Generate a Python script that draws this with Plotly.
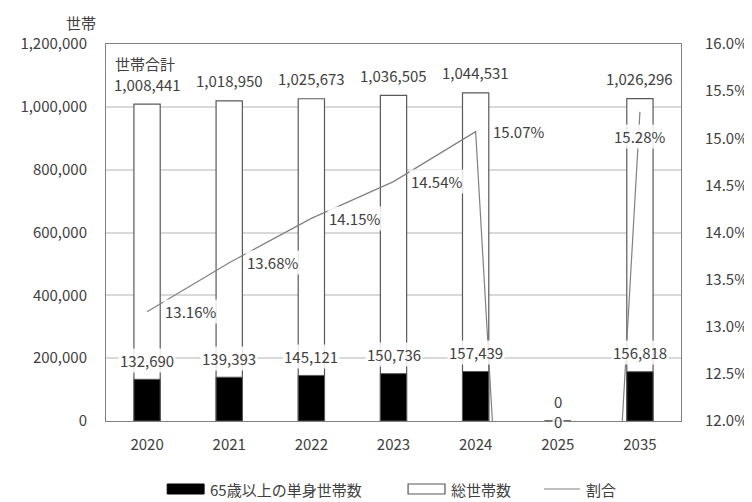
import plotly.graph_objects as go

years = ["2020", "2021", "2022", "2023", "2024", "2025", "2035"]
total_households = [1008441, 1018950, 1025673, 1036505, 1044531, 0, 1026296]
elderly_single = [132690, 139393, 145121, 150736, 157439, 0, 156818]
ratio_pct = [13.16, 13.68, 14.15, 14.54, 15.07, 0, 15.28]
legend_names = ["65歳以上の単身世帯数", "総世帯数", "割合"]

FONT = "Noto Sans CJK JP, Noto Sans, sans-serif"
TXT = "#404040"
FS = 15
EDGE = "#595959"

# page body has an 8px margin; plot area target (screen): x 97..689, y 44..421
L, T = 89, 36
R = 752 - (689 - 8)
B = 502 - (421 - 8)
PW, PH = 689 - 97, 421 - 44


def px(sx):
    return (sx - 97) / PW


def py(sy):
    return (421 - sy) / PH


fig = go.Figure()
fig.add_bar(x=years, y=total_households, name=legend_names[1],
            marker=dict(color="white", line=dict(color=EDGE, width=1.2)),
            width=0.32, showlegend=False)
fig.add_bar(x=years, y=elderly_single, name=legend_names[0],
            marker=dict(color="black", line=dict(color=EDGE, width=1.0)),
            width=0.32, showlegend=False)
fig.add_scatter(x=years, y=ratio_pct, name=legend_names[2], mode="lines",
                line=dict(color="#808080", width=1.2), yaxis="y2", showlegend=False)

ann = []
for i, v in enumerate(total_households):
    ann.append(dict(x=i, y=v, xref="x", yref="y", text=f"{v:,}", showarrow=False,
                    yanchor="middle", yshift=20, font=dict(size=FS, color=TXT)))
for i, v in enumerate(elderly_single):
    ann.append(dict(x=i, y=v, xref="x", yref="y", text=f"{v:,}", showarrow=False,
                    yanchor="middle", yshift=19 if v > 0 else 0,
                    bgcolor="rgba(255,255,255,0.85)", font=dict(size=FS, color=TXT)))
for i, v in enumerate(ratio_pct):
    if v < 12:
        continue
    last = i == len(years) - 1
    ann.append(dict(x=i, y=v, xref="x", yref="y2", text=f"{v:.2f}%", showarrow=False,
                    xshift=0 if last else 43, yshift=-25 if last else 0,
                    yanchor="middle", bgcolor="rgba(255,255,255,0.85)",
                    font=dict(size=FS, color=TXT)))
ann.append(dict(x=px(71), y=py(22), xref="paper", yref="paper", text="世帯", showarrow=False,
                xanchor="center", yanchor="middle", font=dict(size=FS, color=TXT)))
ann.append(dict(x=px(104), y=py(64), xref="paper", yref="paper", text="世帯合計",
                showarrow=False, xanchor="left", yanchor="middle",
                font=dict(size=FS, color=TXT)))

# custom legend (wide swatches like the reference)
LY = 489
shapes = [
    dict(type="rect", xref="paper", yref="paper", x0=px(160), x1=px(198),
         y0=py(LY + 5), y1=py(LY - 5), fillcolor="black", line=dict(color="black", width=1)),
    dict(type="rect", xref="paper", yref="paper", x0=px(408), x1=px(446),
         y0=py(LY + 5), y1=py(LY - 5), fillcolor="white", line=dict(color=EDGE, width=1.2)),
    dict(type="line", xref="paper", yref="paper", x0=px(548), x1=px(585),
         y0=py(LY), y1=py(LY), line=dict(color="#808080", width=1.2)),
]
for sx, name in zip([202, 450, 589], legend_names):
    ann.append(dict(x=px(sx), y=py(LY), xref="paper", yref="paper", text=name,
                    showarrow=False, xanchor="left", yanchor="middle",
                    font=dict(size=FS, color=TXT)))

fig.update_layout(
    width=752, height=502,
    margin=dict(l=L, r=R, t=T, b=B),
    paper_bgcolor="white", plot_bgcolor="white",
    barmode="overlay",
    font=dict(family=FONT, size=FS, color=TXT),
    showlegend=False,
    annotations=ann,
    shapes=shapes,
    xaxis=dict(type="category", range=[-0.5, 6.5], showline=True, mirror=True,
               linecolor="#808080", linewidth=1, ticks="", ticklabelstandoff=10,
               showgrid=False),
    yaxis=dict(range=[0, 1200000], dtick=200000, tickformat=",", showline=True, mirror=True,
               linecolor="#808080", linewidth=1, gridcolor="#d9d9d9", gridwidth=1.5,
               zeroline=False, ticks="", ticklabelstandoff=15),
    yaxis2=dict(range=[12, 16], dtick=0.5, tickformat=".1f", ticksuffix="%",
                overlaying="y", side="right", showgrid=False, showline=False,
                zeroline=False, ticks="", ticklabelstandoff=23),
)

fig.write_html("out.html")
